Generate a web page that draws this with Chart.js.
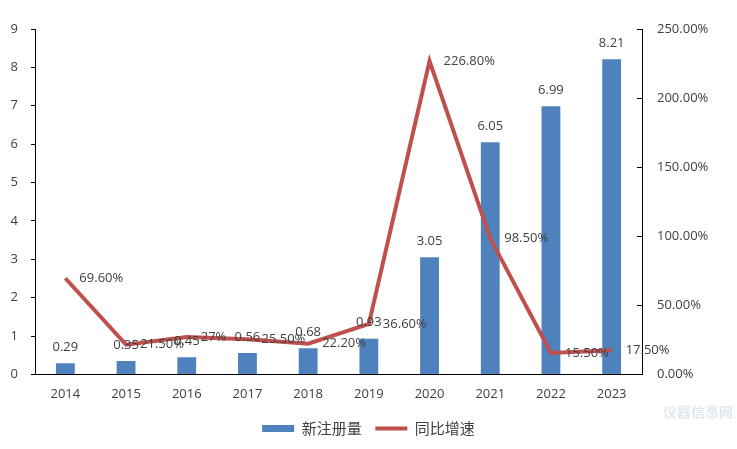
<!DOCTYPE html>
<html>
<head>
<meta charset="utf-8">
<script src="https://cdn.jsdelivr.net/npm/chart.js@4.4.0/dist/chart.umd.min.js"></script>
<style>
  html, body { margin: 0; padding: 0; background: #fff; }
  #wrap { width: 737px; height: 449px; }
</style>
</head>
<body>
<div id="wrap"><canvas id="chart" width="737" height="449"></canvas></div>
<script>
const years = ["2014", "2015", "2016", "2017", "2018", "2019", "2020", "2021", "2022", "2023"];
const registrations = [0.29, 0.35, 0.45, 0.56, 0.68, 0.93, 3.05, 6.05, 6.99, 8.21];
const growthRate = [69.6, 21.5, 27, 25.5, 22.2, 36.6, 226.8, 98.5, 15.5, 17.5];
const growthLabels = ["69.60%", "21.50%", "27%", "25.50%", "22.20%", "36.60%", "226.80%", "98.50%", "15.50%", "17.50%"];
const seriesNames = ["新注册量", "同比增速"];

const BLUE = "#4F81BD";
const RED = "#C0504D";
const TEXT = "#404040";
const FONT = '"Open Sans", "Liberation Sans", sans-serif';
const CJK = '"Noto Sans CJK SC", sans-serif';

// value labels + inward ticks on the right axis
const labelPlugin = {
  id: "valueLabels",
  afterDatasetsDraw(chart) {
    const ctx = chart.ctx;
    ctx.save();
    ctx.font = "13px " + FONT;
    ctx.fillStyle = TEXT;

    ctx.textAlign = "center";
    ctx.textBaseline = "middle";
    chart.getDatasetMeta(0).data.forEach((bar, i) => {
      ctx.fillText(registrations[i].toFixed(2), bar.x, bar.y - 16);
    });

    ctx.textAlign = "left";
    chart.getDatasetMeta(1).data.forEach((pt, i) => {
      ctx.fillText(growthLabels[i], pt.x + 14, pt.y);
    });

    const y2 = chart.scales.y2;
    ctx.strokeStyle = "#000";
    ctx.lineWidth = 1;
    y2.ticks.forEach(t => {
      const y = Math.round(y2.getPixelForValue(t.value)) + 0.5;
      ctx.beginPath();
      ctx.moveTo(y2.left - 5, y);
      ctx.lineTo(y2.left, y);
      ctx.stroke();
    });

    // faint watermark
    ctx.font = "bold 14px " + CJK;
    ctx.fillStyle = "rgba(170,185,210,0.35)";
    ctx.textAlign = "right";
    ctx.fillText("仪器信息网", 733, 412);
    ctx.restore();
  }
};

new Chart(document.getElementById("chart"), {
  type: "bar",
  data: {
    labels: years,
    datasets: [
      {
        label: seriesNames[0],
        data: registrations,
        backgroundColor: BLUE,
        yAxisID: "y",
        barPercentage: 0.31,
        categoryPercentage: 1,
        order: 1
      },
      {
        type: "line",
        label: seriesNames[1],
        data: growthRate,
        borderColor: RED,
        borderWidth: 4,
        pointRadius: 0,
        tension: 0,
        yAxisID: "y2",
        order: 0
      }
    ]
  },
  options: {
    responsive: false,
    animation: false,
    devicePixelRatio: 1,
    layout: { padding: { top: 29, left: 0, right: 0, bottom: 3 } },
    plugins: {
      tooltip: { enabled: false },
      legend: {
        position: "bottom",
        labels: {
          usePointStyle: true,
          pointStyleWidth: 32,
          boxHeight: 7,
          padding: 7,
          color: TEXT,
          font: { family: CJK, size: 15 },
          generateLabels: () => [
            { text: seriesNames[0] + "  ", fillStyle: BLUE, strokeStyle: BLUE, lineWidth: 0, pointStyle: "rect", datasetIndex: 0, hidden: false, fontColor: TEXT },
            { text: seriesNames[1], fillStyle: RED, strokeStyle: RED, lineWidth: 4, pointStyle: "line", datasetIndex: 1, hidden: false, fontColor: TEXT }
          ]
        }
      }
    },
    scales: {
      x: {
        grid: { display: false, drawTicks: false },
        border: { color: "#000" },
        ticks: { color: TEXT, font: { family: FONT, size: 13 }, padding: 12, maxRotation: 0, autoSkip: false }
      },
      y: {
        position: "left",
        min: 0,
        max: 9,
        grid: { drawOnChartArea: false, drawTicks: true, tickLength: 4, color: "#000" },
        border: { color: "#000" },
        ticks: { stepSize: 1, color: TEXT, font: { family: FONT, size: 13 }, padding: 13 },
        afterFit: s => { s.width = 35; }
      },
      y2: {
        position: "right",
        min: 0,
        max: 250,
        grid: { drawOnChartArea: false, drawTicks: false },
        border: { color: "#000" },
        ticks: {
          stepSize: 50,
          color: TEXT,
          font: { family: FONT, size: 13 },
          padding: 15,
          callback: v => v.toFixed(2) + "%"
        },
        afterFit: s => { s.width = 95; }
      }
    }
  },
  plugins: [labelPlugin]
});
</script>
</body>
</html>
